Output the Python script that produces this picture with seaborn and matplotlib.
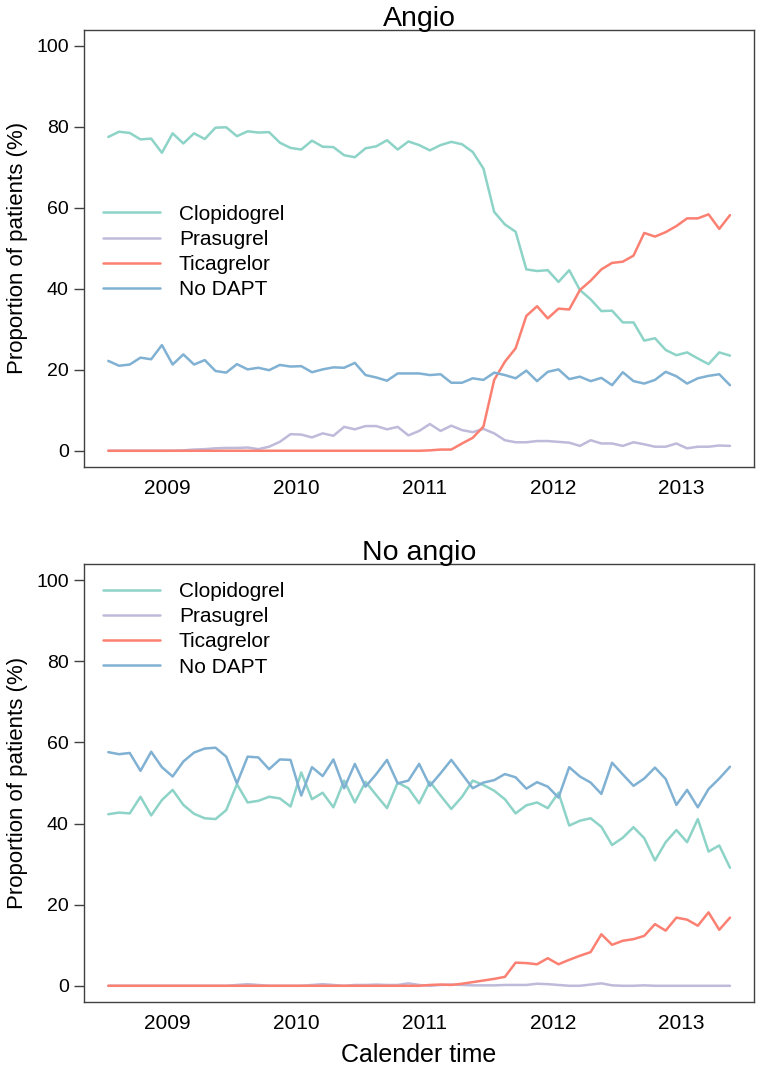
import numpy as np
import pandas as pd
import matplotlib
matplotlib.use("Agg")
import matplotlib.pyplot as plt
import seaborn as sns

#----------------------------------
# Data: monthly proportions (%), Jul 2008 - May 2013
#----------------------------------
first_month = "2008-07"
n_months = 59

drugs = ["Clopidogrel", "Prasugrel", "Ticagrelor", "No DAPT"]
colors = ["#8DD3C7", "#BEBADA", "#FB8072", "#80B1D3"]
year_ticks = [2009, 2010, 2011, 2012, 2013]

angio_clopidogrel = [77.5, 78.8, 78.5, 76.9, 77.1, 73.6, 78.4, 75.9, 78.4, 77.0,
                     79.8, 79.9, 77.7, 78.9, 78.6, 78.7, 76.1, 74.8, 74.4, 76.6,
                     75.1, 75.0, 73.0, 72.5, 74.7, 75.2, 76.7, 74.4, 76.4, 75.5,
                     74.2, 75.5, 76.3, 75.7, 73.8, 69.7, 59.0, 55.9, 54.1, 44.8,
                     44.4, 44.6, 41.7, 44.6, 39.7, 37.4, 34.5, 34.6, 31.7, 31.7,
                     27.2, 27.8, 24.9, 23.6, 24.3, 22.8, 21.4, 24.3, 23.5]
angio_prasugrel = [0.0, 0.0, 0.0, 0.0, 0.0, 0.0, 0.0, 0.1, 0.3, 0.4,
                   0.6, 0.7, 0.7, 0.8, 0.4, 1.0, 2.2, 4.1, 4.0, 3.3,
                   4.3, 3.7, 5.9, 5.3, 6.1, 6.1, 5.3, 5.9, 3.8, 4.9,
                   6.6, 4.9, 6.2, 5.1, 4.6, 5.4, 4.3, 2.6, 2.1, 2.1,
                   2.4, 2.4, 2.2, 2.0, 1.2, 2.6, 1.8, 1.8, 1.2, 2.1,
                   1.6, 1.0, 1.0, 1.8, 0.6, 1.0, 1.0, 1.3, 1.2]
angio_ticagrelor = [0.0] * 30 + [0.1, 0.3, 0.3, 1.8, 3.2, 6.0, 17.5, 22.0, 25.3, 33.3,
                                 35.7, 32.7, 35.1, 34.9, 39.7, 42.0, 44.8, 46.4, 46.7, 48.2,
                                 53.8, 52.9, 54.0, 55.5, 57.4, 57.4, 58.4, 54.8, 58.2]
angio_nodapt = [22.2, 21.0, 21.3, 23.0, 22.6, 26.1, 21.3, 23.8, 21.3, 22.4,
                19.7, 19.3, 21.4, 20.1, 20.5, 19.9, 21.2, 20.8, 20.9, 19.4,
                20.1, 20.6, 20.5, 21.7, 18.7, 18.1, 17.3, 19.1, 19.1, 19.1,
                18.7, 18.9, 16.8, 16.8, 17.9, 17.5, 19.3, 18.7, 17.9, 19.8,
                17.2, 19.5, 20.1, 17.7, 18.3, 17.2, 18.0, 16.2, 19.4, 17.2,
                16.6, 17.5, 19.5, 18.4, 16.6, 17.9, 18.5, 18.9, 16.2]

noangio_clopidogrel = [42.3, 42.7, 42.5, 46.6, 42.0, 45.8, 48.3, 44.6, 42.4, 41.3,
                       41.1, 43.3, 49.7, 45.2, 45.6, 46.6, 46.2, 44.2, 52.6, 46.0,
                       47.6, 44.0, 50.6, 45.2, 50.3, 47.0, 43.8, 50.1, 48.7, 45.0,
                       50.3, 46.9, 43.6, 46.6, 50.6, 49.5, 48.1, 46.0, 42.5, 44.5,
                       45.2, 43.8, 47.6, 39.5, 40.7, 41.3, 39.2, 34.7, 36.5, 39.1,
                       36.4, 30.9, 35.4, 38.4, 35.4, 41.1, 33.1, 34.6, 29.1]
noangio_prasugrel = [0.0, 0.0, 0.0, 0.0, 0.0, 0.0, 0.0, 0.0, 0.0, 0.0,
                     0.0, 0.0, 0.2, 0.4, 0.2, 0.0, 0.0, 0.0, 0.0, 0.2,
                     0.4, 0.2, 0.0, 0.2, 0.2, 0.3, 0.2, 0.2, 0.6, 0.2,
                     0.0, 0.2, 0.3, 0.2, 0.1, 0.1, 0.1, 0.2, 0.2, 0.2,
                     0.5, 0.4, 0.2, 0.0, 0.0, 0.3, 0.6, 0.1, 0.0, 0.0,
                     0.1, 0.0, 0.0, 0.0, 0.0, 0.0, 0.0, 0.0, 0.0]
noangio_ticagrelor = [0.0] * 30 + [0.2, 0.3, 0.2, 0.5, 0.9, 1.3, 1.7, 2.2, 5.7, 5.6,
                                   5.3, 6.8, 5.3, 6.4, 7.4, 8.3, 12.7, 10.1, 11.1, 11.5,
                                   12.3, 15.2, 13.6, 16.8, 16.3, 14.8, 18.1, 13.8, 16.8]
noangio_nodapt = [57.6, 57.1, 57.4, 53.0, 57.7, 53.9, 51.6, 55.3, 57.5, 58.5,
                  58.7, 56.5, 49.9, 56.5, 56.3, 53.4, 55.8, 55.7, 46.9, 53.9,
                  51.7, 55.8, 48.7, 54.7, 49.1, 52.2, 55.7, 49.9, 50.6, 54.7,
                  49.3, 52.4, 55.7, 52.2, 48.7, 50.1, 50.7, 52.2, 51.4, 48.6,
                  50.2, 49.1, 46.4, 53.9, 51.6, 50.1, 47.3, 55.0, 52.1, 49.3,
                  51.1, 53.8, 51.0, 44.6, 48.3, 44.0, 48.5, 51.1, 54.0]

#----------------------------------
# Build long-form tables
#----------------------------------
months = pd.period_range(first_month, periods=n_months, freq="M")
# mid-month position in decimal years
t = months.year + (months.month - 0.5) / 12


def make_frame(series):
    parts = []
    for name, vals in zip(drugs, series):
        parts.append(pd.DataFrame({"time": t, "pct": vals, "drug": name}))
    return pd.concat(parts, ignore_index=True)


df_angio = make_frame([angio_clopidogrel, angio_prasugrel, angio_ticagrelor, angio_nodapt])
df_noangio = make_frame([noangio_clopidogrel, noangio_prasugrel, noangio_ticagrelor, noangio_nodapt])

#----------------------------------
# Plot
#----------------------------------
sns.set_style("white")
plt.rcParams["font.family"] = ["Liberation Sans", "DejaVu Sans"]
plt.rcParams["text.color"] = "black"
plt.rcParams["axes.labelcolor"] = "black"
plt.rcParams["xtick.color"] = "black"
plt.rcParams["ytick.color"] = "black"

fig = plt.figure(figsize=(7.6, 10.72), dpi=100)
ax1 = fig.add_axes([0.1105, 0.5644, 0.8816, 0.4079])
ax2 = fig.add_axes([0.1105, 0.0653, 0.8816, 0.4086])

palette = dict(zip(drugs, colors))

for ax, df, title, leg_y in [(ax1, df_angio, "Angio", 0.600),
                             (ax2, df_noangio, "No angio", 0.959)]:
    sns.lineplot(data=df, x="time", y="pct", hue="drug", hue_order=drugs,
                 palette=palette, linewidth=1.8, ax=ax)
    ax.set_xlim(2008.3525, 2013.5617)
    ax.set_ylim(-4, 104)
    ax.set_yticks([0, 20, 40, 60, 80, 100])
    ax.set_xticks(year_ticks)
    ax.set_xticklabels([str(y) for y in year_ticks])
    ax.tick_params(axis="y", left=True, length=7, width=1, color="#404040",
                   labelsize=14, pad=4)
    ax.tick_params(axis="x", bottom=False, length=0, labelsize=15, pad=9)
    for sp in ax.spines.values():
        sp.set_color("#404040")
        sp.set_linewidth(1)
    ax.set_title(title, fontsize=20.5, pad=3)
    ax.set_ylabel("Proportion of patients (%)", fontsize=16, labelpad=6)
    ax.set_xlabel("")
    ax.legend(loc="upper left", bbox_to_anchor=(0.028, leg_y), frameon=False,
              fontsize=15, borderpad=0, borderaxespad=0, labelspacing=0.3,
              handlelength=2.75, handletextpad=0.9)

ax2.set_xlabel("Calender time", fontsize=18, labelpad=7)

fig.savefig("out.png", dpi=100)
